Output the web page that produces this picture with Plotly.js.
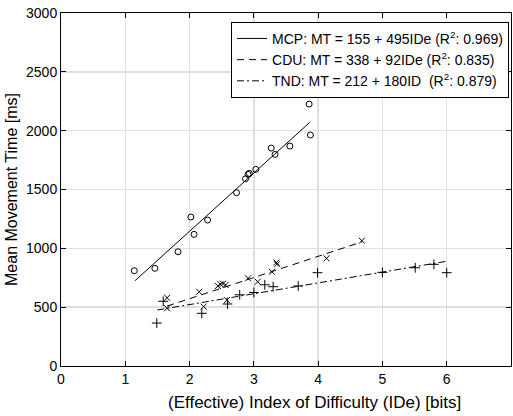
<!DOCTYPE html>
<html>
<head>
<meta charset="utf-8">
<script src="https://cdn.plot.ly/plotly-3.0.1.min.js"></script>
<style>html,body{margin:0;padding:0;background:#fff;}#chart{width:513px;height:416px;}</style>
</head>
<body>
<div id="chart"></div>
<script>
// MCP (circles)
const mcpX = [1.14, 1.46, 1.82, 2.02, 2.07, 2.28, 2.73, 2.87, 2.91, 2.93, 3.03, 3.27, 3.33, 3.56, 3.88, 3.86];
const mcpY = [810, 830, 971, 1266, 1119, 1240, 1473, 1591, 1629, 1637, 1671, 1852, 1798, 1869, 1963, 2226];
// CDU (x marks)
const cduX = [1.65, 1.65, 2.15, 2.22, 2.44, 2.48, 2.52, 2.56, 2.58, 2.91, 3.06, 3.28, 3.35, 3.36, 4.13, 4.68];
const cduY = [580, 490, 631, 505, 680, 695, 700, 688, 560, 745, 716, 801, 880, 865, 915, 1065];
// TND (+ marks)
const tndX = [1.49, 1.59, 2.19, 2.59, 2.78, 3.00, 3.17, 3.30, 3.69, 3.99, 5.00, 5.51, 5.80, 6.00];
const tndY = [365, 550, 448, 527, 605, 625, 690, 674, 680, 793, 796, 835, 864, 793];

// fitted lines as drawn: [intercept, slope], x range
const mcpFit = [155, 495]; const mcpRange = [1.15, 3.87];
const cduFit = [212, 180]; const cduRange = [1.65, 4.68];
const tndFit = [338, 92];  const tndRange = [1.5, 6.0];

const legendNames = [
  'MCP: MT = 155 + 495IDe (R<sup>2</sup>: 0.969)',
  'CDU: MT = 338 + 92IDe (R<sup>2</sup>: 0.835)',
  'TND: MT = 212 + 180ID  (R<sup>2</sup>: 0.879)'
];
const xTitle = '(Effective) Index of Difficulty (IDe) [bits]';
const yTitle = 'Mean Movement Time [ms]';

function fitLine(fit, range) {
  return {x: range, y: range.map(v => fit[0] + fit[1] * v)};
}
const l1 = fitLine(mcpFit, mcpRange), l2 = fitLine(cduFit, cduRange), l3 = fitLine(tndFit, tndRange);

const traces = [
  {x: l1.x, y: l1.y, mode: 'lines', name: legendNames[0], line: {color: '#000', width: 1, dash: 'solid'}},
  {x: l2.x, y: l2.y, mode: 'lines', name: legendNames[1], line: {color: '#000', width: 1, dash: '7px,5px'}},
  {x: l3.x, y: l3.y, mode: 'lines', name: legendNames[2], line: {color: '#000', width: 1, dash: '7px,3px,2px,3px'}},
  {x: mcpX, y: mcpY, mode: 'markers', showlegend: false, marker: {symbol: 'circle-open', size: 6, color: '#000', line: {width: 1, color: '#000'}}},
  {x: cduX, y: cduY, mode: 'markers', showlegend: false, marker: {symbol: 'x-thin-open', size: 6, color: '#000', line: {width: 1, color: '#000'}}},
  {x: tndX, y: tndY, mode: 'markers', showlegend: false, marker: {symbol: 'cross-thin-open', size: 7, color: '#000', line: {width: 1, color: '#000'}}}
];

const fam = 'Liberation Sans, Arial, sans-serif';
const layout = {
  width: 513, height: 416,
  margin: {l: 61, r: 2, t: 13, b: 50},
  paper_bgcolor: '#fff', plot_bgcolor: '#fff',
  font: {family: fam, size: 14, color: '#000'},
  showlegend: true,
  legend: {x: 0.9956, y: 0.975, xanchor: 'right', yanchor: 'top', bgcolor: '#fff', bordercolor: '#000', borderwidth: 1, font: {family: fam, size: 14, color: '#000'}, tracegroupgap: 0},
  xaxis: {
    range: [0, 7], dtick: 1, tick0: 0,
    showgrid: true, gridcolor: '#e0e0e0', gridwidth: 1.5,
    showline: true, linecolor: '#000', linewidth: 1, mirror: 'ticks',
    ticks: 'inside', ticklen: 5, tickcolor: '#000',
    zeroline: false, automargin: false,
    tickfont: {family: fam, size: 14, color: '#000'}
  },
  yaxis: {
    range: [0, 3000], dtick: 500, tick0: 0,
    showgrid: true, gridcolor: '#e0e0e0', gridwidth: 1.5,
    showline: true, linecolor: '#000', linewidth: 1, mirror: 'ticks',
    ticks: 'inside', ticklen: 5, tickcolor: '#000',
    zeroline: false, automargin: false,
    tickfont: {family: fam, size: 14, color: '#000'},
    title: {text: yTitle, font: {family: fam, size: 16, color: '#000'}, standoff: 4}
  },
  annotations: [{
    text: xTitle, xref: 'paper', yref: 'paper', x: 0.564, y: 0,
    xanchor: 'center', yanchor: 'top', yshift: -25, showarrow: false,
    font: {family: fam, size: 17, color: '#000'}
  }]
};

Plotly.newPlot('chart', traces, layout, {displayModeBar: false, staticPlot: true});
</script>
</body>
</html>
